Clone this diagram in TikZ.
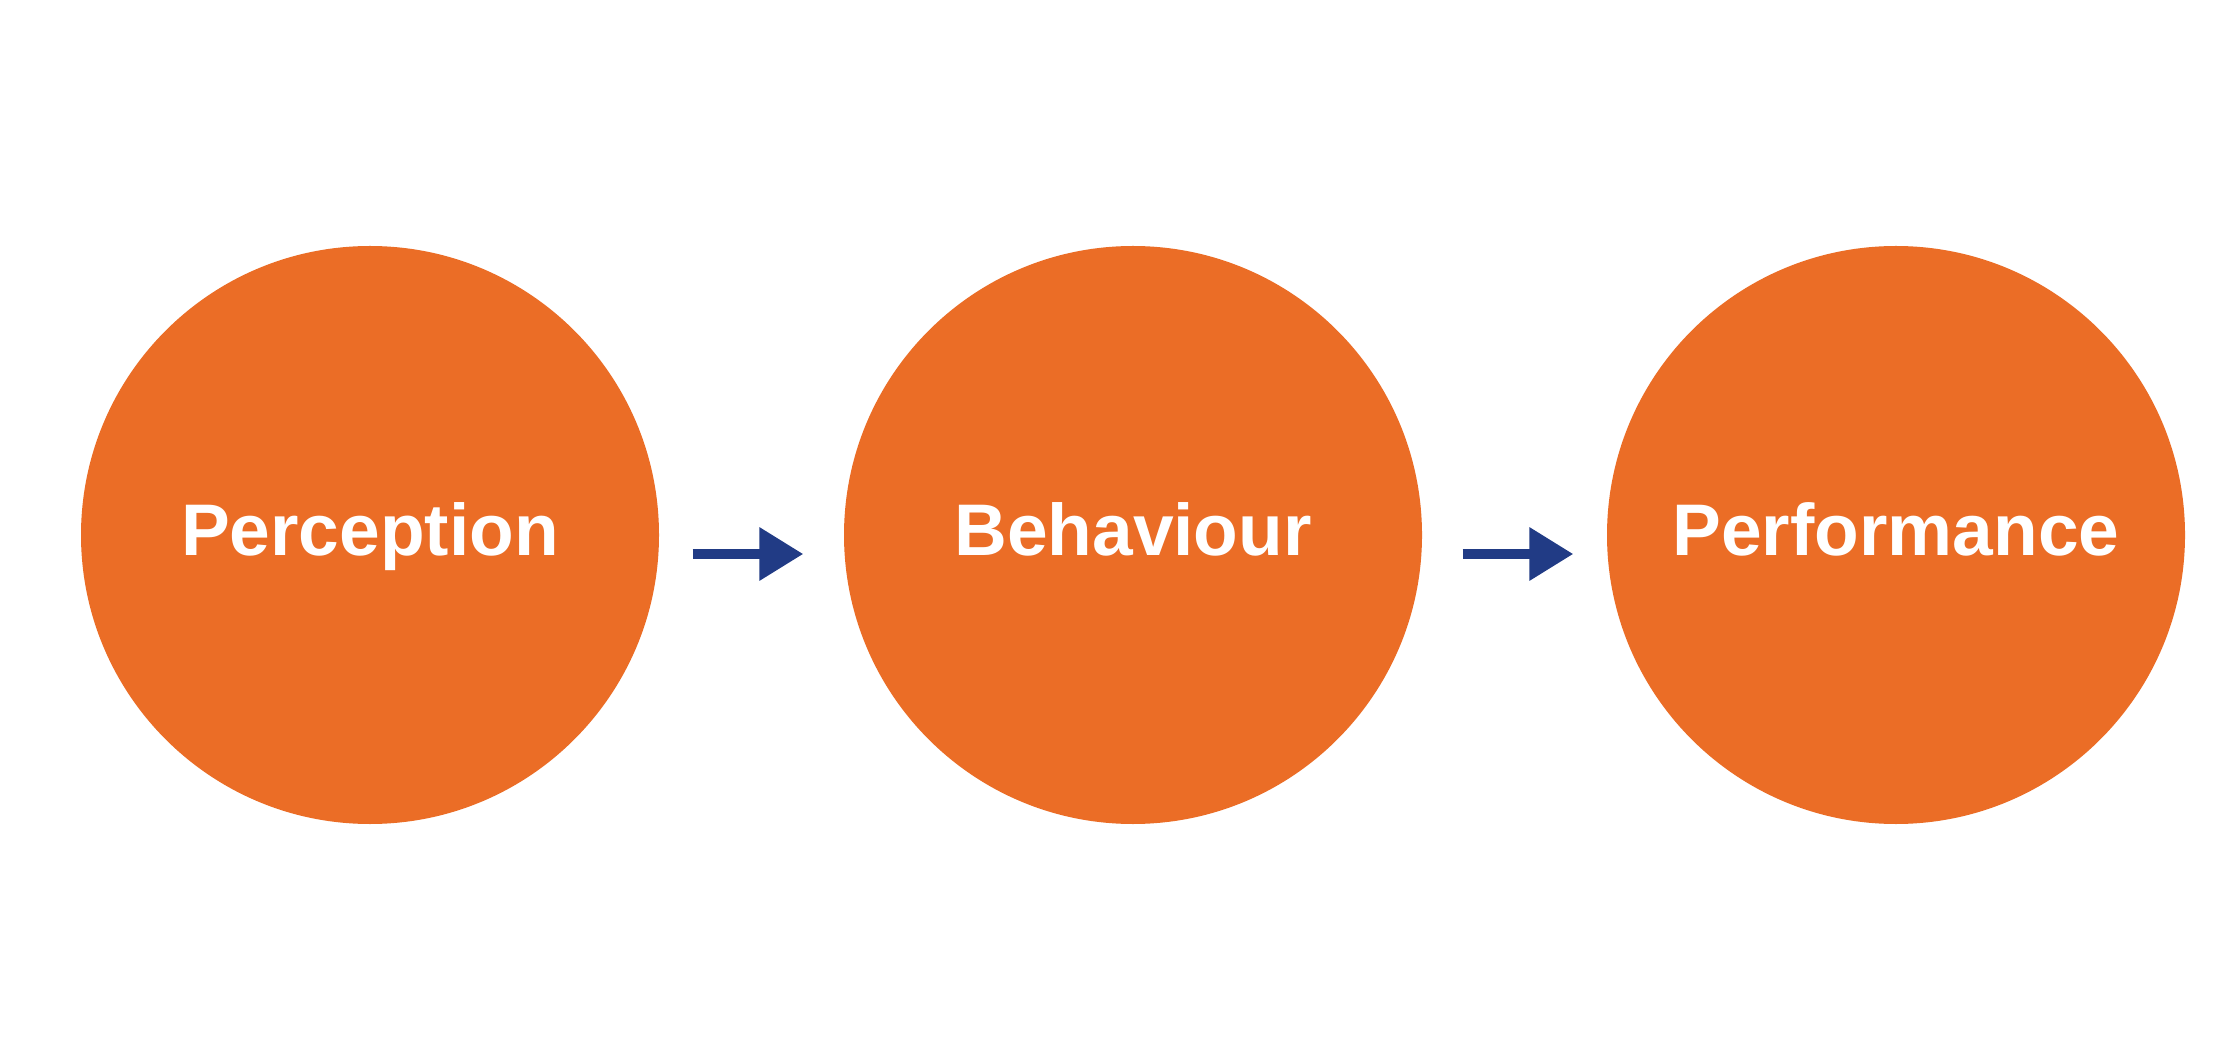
\documentclass[tikz,border=0pt]{standalone}
\usepackage{fontspec}
\setmainfont{Liberation Sans}
\usetikzlibrary{arrows.meta}
\definecolor{circorange}{HTML}{EB6D26}
\definecolor{arrblue}{HTML}{213B85}
\tikzset{
  stagecircle/.style={circle, fill=circorange, draw=none, minimum size=5.78cm, inner sep=0pt,
    text=white, font=\fontsize{20.8}{25}\selectfont\bfseries, text height=0.53cm, text depth=0.12cm},
  flowarrow/.style={draw=arrblue, line width=0.1cm, -{Triangle[length=4.4mm,width=5.1mm]}}
}
\begin{document}
\begin{tikzpicture}
\useasboundingbox[fill=white] (0,0) rectangle (22.32,10.59);
\node[stagecircle] (c1) at (3.70,5.24) {Perception};
\node[stagecircle] (c2) at (11.33,5.24) {Behaviour};
\node[stagecircle] (c3) at (18.96,5.24) {Performance};
\draw[flowarrow] ([xshift=0.33cm,yshift=-0.19cm]c1.east) -- ([xshift=-0.40cm,yshift=-0.19cm]c2.west);
\draw[flowarrow] ([xshift=0.40cm,yshift=-0.19cm]c2.east) -- ([xshift=-0.33cm,yshift=-0.19cm]c3.west);
\end{tikzpicture}
\end{document}
